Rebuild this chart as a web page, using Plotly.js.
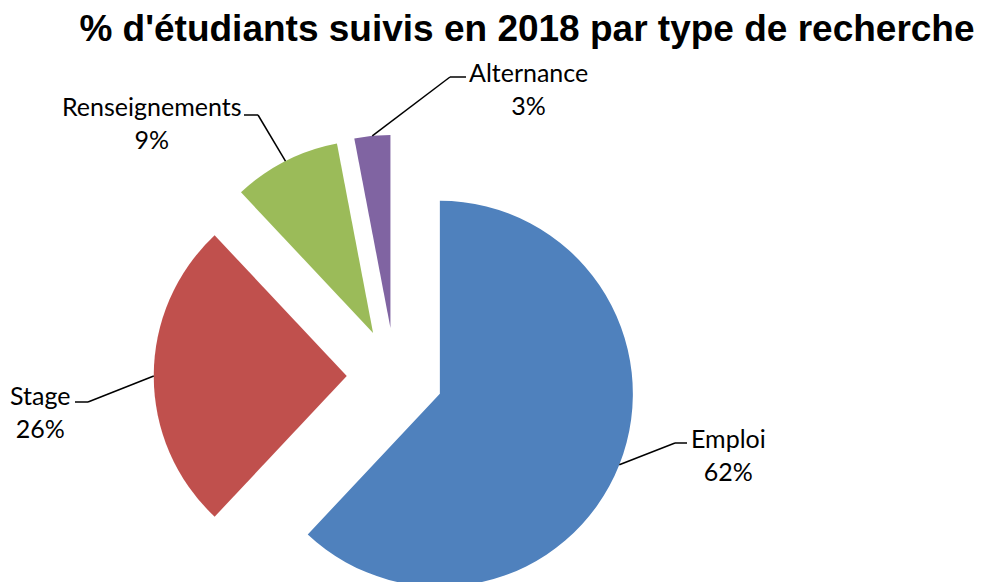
<!DOCTYPE html>
<html>
<head>
<meta charset="utf-8">
<script src="https://cdn.plot.ly/plotly-3.0.1.min.js"></script>
<style>
html, body { margin: 0; padding: 0; overflow: hidden; background: #fff; }
#chart { width: 985px; height: 640px; }
</style>
</head>
<body>
<div id="chart"></div>
<script>
// ---- data ----
var categories = ["Emploi", "Stage", "Renseignements", "Alternance"];
var values = [62, 26, 9, 3];
var colors = ["#4F81BD", "#C0504D", "#9BBB59", "#8064A2"];
var titleText = "% d'étudiants suivis en 2018 par type de recherche";

// ---- layout config (pixels) ----
var W = 985, H = 640;
var pull = 0.25;
var R = 193;                 // pie radius in px
var CX = 395, CY = 376;      // pie centre in px
// label block centre and leader line elbow/end per slice
var labelCenter = [[728, 454], [40, 411], [152, 122], [528, 89]];
var elbow = [[675, 443], [88, 402], [258, 115], [450, 77]];
var lineEnd = [[687, 443], [75, 402], [244, 115], [466, 77]];

var half = R * (1 + pull);
var domX = [(CX - half) / W, (CX + half) / W];
var domY = [1 - (CY + half) / H, 1 - (CY - half) / H];

function px(x) { return x / W; }
function py(y) { return 1 - y / H; }

var total = values.reduce(function (a, b) { return a + b; }, 0);
var annotations = [];
var shapes = [];
var cum = 0;
for (var i = 0; i < values.length; i++) {
  var frac = values[i] / total;
  var mid = (cum + frac / 2) * 2 * Math.PI; // clockwise from 12 o'clock
  cum += frac;
  var dx = Math.sin(mid), dy = -Math.cos(mid);
  var ax = CX + (R * pull + R) * dx;
  var ay = CY + (R * pull + R) * dy;
  var pct = Math.round(frac * 100) + "%";
  annotations.push({
    xref: "paper", yref: "paper",
    x: px(labelCenter[i][0]), y: py(labelCenter[i][1]),
    xanchor: "center", yanchor: "middle",
    text: categories[i] + "<br>" + pct,
    showarrow: false, align: "center",
    font: {family: "Lato, 'Open Sans', sans-serif", size: 25, color: "#000"}
  });
  shapes.push({
    type: "line", xref: "paper", yref: "paper",
    x0: px(ax), y0: py(ay), x1: px(elbow[i][0]), y1: py(elbow[i][1]),
    line: {color: "#000", width: 1.5}
  });
  shapes.push({
    type: "line", xref: "paper", yref: "paper",
    x0: px(elbow[i][0]), y0: py(elbow[i][1]), x1: px(lineEnd[i][0]), y1: py(lineEnd[i][1]),
    line: {color: "#000", width: 1.5}
  });
}

var trace = {
  type: "pie",
  labels: categories,
  values: values,
  sort: false,
  direction: "clockwise",
  rotation: 0,
  pull: pull,
  textinfo: "none",
  hoverinfo: "label+percent",
  marker: {colors: colors, line: {width: 0}},
  domain: {x: domX, y: domY},
  showlegend: false
};

var layout = {
  width: W, height: H,
  margin: {l: 0, r: 0, t: 0, b: 0},
  paper_bgcolor: "#fff",
  title: {
    text: "<b>" + titleText + "</b>",
    xref: "paper", yref: "container",
    x: 527 / W, xanchor: "center",
    y: 1 - 28 / H, yanchor: "middle",
    font: {family: "'Liberation Sans', Arial, sans-serif", size: 37, color: "#000"}
  },
  annotations: annotations,
  shapes: shapes,
  showlegend: false
};

Plotly.newPlot("chart", [trace], layout, {displayModeBar: false, staticPlot: true});
</script>
</body>
</html>
